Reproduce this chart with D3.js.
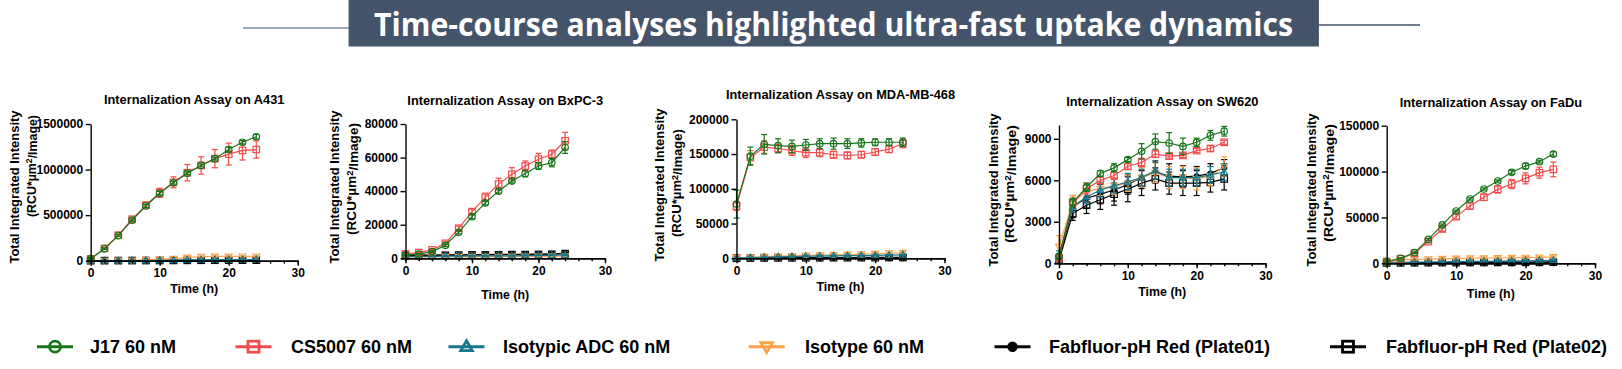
<!DOCTYPE html>
<html><head><meta charset="utf-8">
<script src="https://cdn.jsdelivr.net/npm/d3@7/dist/d3.min.js"></script>
<style>
body{margin:0;background:#fff;}
svg{display:block;font-family:"Liberation Sans",Arial,sans-serif;}
</style>
</head><body>
<svg id="chart" width="1622" height="369"></svg>
<script>
// ---------------- DATA ----------------
const headline = "Time-course analyses highlighted ultra-fast uptake dynamics";
const times = [0, 2, 4, 6, 8, 10, 12, 14, 16, 18, 20, 22, 24];
const seriesNames = ["J17 60 nM", "CS5007 60 nM", "Isotypic ADC 60 nM", "Isotype 60 nM",
  "Fabfluor-pH Red (Plate01)", "Fabfluor-pH Red (Plate02)"];
const panelTitles = ["Internalization Assay on A431", "Internalization Assay on BxPC-3",
  "Internalization Assay on MDA-MB-468", "Internalization Assay on SW620", "Internalization Assay on FaDu"];
const xTicks = [0, 10, 20, 30];
const xMinorTicks = [0, 2, 4, 6, 8, 10, 12, 14, 16, 18, 20, 22, 24, 26, 28, 30];
const yMaxes = [1500000, 80000, 200000, 10000, 150000];
const yTicksA431 = [0, 500000, 1000000, 1500000];
const yTicksBxPC3 = [0, 20000, 40000, 60000, 80000];
const yTicksMDA = [0, 50000, 100000, 150000, 200000];
const yTicksSW620 = [0, 3000, 6000, 9000];
const yTicksFaDu = [0, 50000, 100000, 150000];

// rows: J17, CS5007, Isotypic ADC, Isotype, Plate01, Plate02
const a431Values = [
  [20000, 130000, 275000, 445000, 600000, 740000, 855000, 960000, 1045000, 1120000, 1220000, 1300000, 1360000],
  [20000, 135000, 280000, 455000, 610000, 745000, 860000, 965000, 1045000, 1120000, 1170000, 1210000, 1220000],
  [0, 500, 1000, 1500, 2000, 3000, 5000, 8000, 10000, 11000, 12000, 12000, 13000],
  [0, 1000, 2000, 3000, 8000, 14000, 22000, 35000, 45000, 47000, 47000, 48000, 48000],
  [0, 500, 1000, 1500, 2000, 2500, 3000, 4000, 5000, 5000, 5000, 5000, 5000],
  [0, 500, 1000, 1500, 2000, 2500, 3000, 4000, 5000, 5500, 5500, 6000, 6000]];
const a431Errors = [
  [5000, 8000, 10000, 12000, 15000, 20000, 15000, 15000, 15000, 15000, 25000, 20000, 25000],
  [5000, 10000, 12000, 15000, 30000, 50000, 60000, 90000, 95000, 100000, 120000, 105000, 95000],
  [500, 500, 500, 1000, 1000, 1000, 2000, 3000, 3000, 3000, 3000, 3000, 3000],
  [1000, 1000, 2000, 2000, 3000, 4000, 5000, 6000, 6000, 6000, 6000, 6000, 6000],
  [500, 500, 500, 500, 1000, 1000, 1000, 1000, 1000, 1000, 1000, 1000, 1000],
  [500, 500, 500, 500, 1000, 1000, 1000, 1000, 1000, 1000, 1000, 1000, 1000]];

const bxpc3Values = [
  [2000, 2500, 4000, 7700, 15500, 24800, 33000, 40000, 46000, 50500, 55000, 57000, 66000],
  [2600, 3400, 5000, 8900, 17900, 27800, 36300, 44200, 50000, 55000, 59000, 62000, 70000],
  [1000, 1100, 1200, 1300, 1300, 1400, 1400, 1500, 1500, 1600, 1700, 1800, 2000],
  [700, 800, 800, 900, 900, 1000, 1000, 1000, 1100, 1100, 1200, 1200, 1300],
  [1800, 1900, 1900, 2000, 2000, 2100, 2200, 2300, 2400, 2400, 2500, 2600, 3000],
  [1600, 1700, 1800, 1800, 1900, 2000, 2000, 2100, 2200, 2200, 2300, 2400, 2800]];
const bxpc3Errors = [
  [300, 300, 500, 700, 1000, 1200, 1200, 1200, 1200, 2000, 2000, 2500, 3500],
  [400, 400, 500, 800, 1200, 1500, 2500, 3500, 4000, 3000, 3500, 2500, 5000],
  [200, 200, 200, 200, 200, 200, 200, 200, 200, 200, 200, 200, 300],
  [200, 200, 200, 200, 200, 200, 200, 200, 200, 200, 200, 200, 300],
  [200, 200, 200, 200, 200, 200, 200, 200, 200, 200, 200, 300, 400],
  [200, 200, 200, 200, 200, 200, 200, 200, 200, 200, 200, 300, 400]];

const mdaValues = [
  [78000, 147000, 164000, 162000, 161000, 163000, 165000, 165000, 165000, 166000, 167000, 167000, 167000],
  [75000, 145000, 160000, 158000, 155000, 152000, 152000, 149000, 148000, 149000, 153000, 157000, 165000],
  [200, 1000, 1500, 2000, 2500, 3000, 3200, 3500, 3800, 4000, 4200, 4500, 5000],
  [500, 1500, 2500, 3000, 3500, 4000, 4500, 5000, 5500, 6000, 6500, 7500, 8000],
  [0, 500, 700, 800, 900, 1000, 1000, 1100, 1100, 1200, 1200, 1300, 1300],
  [0, 300, 500, 600, 700, 800, 800, 900, 900, 1000, 1000, 1100, 1100]];
const mdaErrors = [
  [20000, 13000, 14000, 10000, 9000, 8000, 7000, 8000, 7000, 6000, 5000, 5000, 6000],
  [6000, 10000, 9000, 6000, 7000, 7000, 6000, 5000, 5000, 5000, 5000, 5000, 6000],
  [500, 800, 800, 800, 800, 800, 800, 800, 800, 800, 800, 800, 800],
  [800, 1500, 1500, 1500, 1500, 1500, 1500, 1500, 1500, 1500, 1500, 1500, 1500],
  [300, 300, 300, 300, 300, 300, 300, 300, 300, 300, 300, 300, 300],
  [300, 300, 300, 300, 300, 300, 300, 300, 300, 300, 300, 300, 300]];

const sw620Values = [
  [500, 4400, 5500, 6500, 6900, 7500, 8100, 8800, 8700, 8450, 8750, 9250, 9550],
  [400, 4400, 5400, 6000, 6350, 7000, 7300, 7900, 7750, 7800, 8150, 8300, 8750],
  [600, 4100, 4800, 5300, 5600, 5900, 6200, 6700, 6200, 6200, 6200, 6400, 6600],
  [1200, 4400, 5200, 5400, 5600, 5800, 6200, 6550, 6200, 6200, 6100, 6300, 7000],
  [300, 4100, 4700, 5000, 5300, 5700, 6200, 6600, 6300, 6250, 6300, 6500, 6900],
  [200, 3600, 4200, 4600, 5000, 5350, 5800, 6100, 5800, 5800, 5800, 5850, 6100]];
const sw620Errors = [
  [200, 300, 300, 200, 300, 150, 550, 550, 750, 600, 300, 350, 350],
  [150, 300, 400, 250, 300, 200, 300, 250, 150, 150, 150, 200, 150],
  [300, 400, 500, 500, 500, 600, 600, 600, 600, 600, 600, 600, 600],
  [800, 500, 500, 500, 600, 600, 700, 700, 800, 800, 800, 700, 700],
  [300, 800, 700, 700, 800, 700, 800, 800, 900, 800, 700, 700, 600],
  [200, 500, 600, 700, 800, 900, 900, 800, 800, 900, 900, 700, 800]];

const faduValues = [
  [1800, 5400, 11600, 26100, 41800, 57000, 70100, 81000, 89700, 99200, 106000, 110800, 119100],
  [2000, 5000, 11000, 23600, 37400, 50900, 62500, 72000, 80600, 86400, 92600, 98800, 102400],
  [800, 1000, 1200, 1400, 1600, 1800, 2000, 2200, 2400, 2600, 2800, 3000, 3200],
  [1000, 4000, 4200, 4500, 5000, 5200, 5500, 5600, 5800, 6000, 6200, 6500, 6800],
  [500, 600, 700, 800, 900, 1000, 1000, 1100, 1100, 1200, 1200, 1300, 1300],
  [400, 500, 600, 700, 800, 800, 900, 900, 1000, 1000, 1100, 1100, 1200]];
const faduErrors = [
  [500, 500, 800, 1000, 1000, 1000, 1200, 1200, 1200, 2000, 3000, 1500, 2500],
  [500, 500, 800, 1500, 2500, 3000, 3500, 3500, 4000, 5000, 6000, 6000, 8000],
  [400, 400, 400, 400, 400, 400, 400, 400, 400, 400, 400, 400, 400],
  [600, 1200, 1200, 1200, 1200, 1200, 1200, 1200, 1200, 1200, 1200, 1200, 1200],
  [300, 300, 300, 300, 300, 300, 300, 300, 300, 300, 300, 300, 300],
  [300, 300, 300, 300, 300, 300, 300, 300, 300, 300, 300, 300, 300]];

// ---------------- STYLE / LAYOUT ----------------
const colors = ["#17761a", "#f44c4c", "#16788c", "#fba24a", "#000000", "#000000"];
const shapes = ["circle", "square", "triUp", "triDown", "dot", "square"];
const panelData = [
  {values: a431Values, errors: a431Errors, yTicks: yTicksA431},
  {values: bxpc3Values, errors: bxpc3Errors, yTicks: yTicksBxPC3},
  {values: mdaValues, errors: mdaErrors, yTicks: yTicksMDA},
  {values: sw620Values, errors: sw620Errors, yTicks: yTicksSW620},
  {values: faduValues, errors: faduErrors, yTicks: yTicksFaDu}];
const layout = [
  {x0: 90.7, x1: 297.7, yB: 260.7, yT: 124, titleY: 100, t1: 14.5, t2: 31.5, c1: 187, c2: 166, len2: 102, timeY: 289},
  {x0: 405.5, x1: 605, yB: 258.3, yT: 124, titleY: 100.7, t1: 335, t2: 352, c1: 187, c2: 179, len2: 112, timeY: 295},
  {x0: 736.5, x1: 944.5, yB: 258.3, yT: 119.3, titleY: 95, t1: 659.3, t2: 676.7, c1: 185, c2: 183, len2: 108, timeY: 286.7},
  {x0: 1059, x1: 1265.5, yB: 263.3, yT: 125, titleY: 101.7, t1: 993.3, t2: 1010, c1: 190, c2: 184, len2: 118, timeY: 291.7},
  {x0: 1386.7, x1: 1595, yB: 263.3, yT: 125.7, titleY: 102.7, t1: 1311.7, t2: 1328.3, c1: 190, c2: 183, len2: 118, timeY: 294}];

const svg = d3.select("#chart");

// ---------------- HEADER ----------------
svg.append("line").attr("x1", 243).attr("x2", 349).attr("y1", 28).attr("y2", 28)
  .attr("stroke", "#7d8ca2").attr("stroke-width", 1.6);
svg.append("line").attr("x1", 1318).attr("x2", 1420).attr("y1", 25).attr("y2", 25)
  .attr("stroke", "#44546a").attr("stroke-width", 1.6);
svg.append("rect").attr("x", 348.6).attr("y", 0).attr("width", 970.3).attr("height", 46.5)
  .attr("fill", "#44546a");
svg.append("text").attr("x", 374).attr("y", 35.5).text(headline)
  .attr("fill", "#fff").attr("font-family", "'Open Sans', 'Noto Sans', sans-serif")
  .attr("font-weight", "bold").attr("font-size", 32)
  .attr("textLength", 919).attr("lengthAdjust", "spacingAndGlyphs");

// ---------------- MARKERS ----------------
function drawMarker(g, shape, color, cx, cy, s, sw) {
  if (shape === "circle") {
    g.append("circle").attr("cx", cx).attr("cy", cy).attr("r", s / 2)
      .attr("fill", "none").attr("stroke", color).attr("stroke-width", sw);
  } else if (shape === "dot") {
    g.append("circle").attr("cx", cx).attr("cy", cy).attr("r", s / 2)
      .attr("fill", color).attr("stroke", color).attr("stroke-width", sw * 0.5);
  } else if (shape === "square") {
    g.append("rect").attr("x", cx - s / 2).attr("y", cy - s / 2).attr("width", s).attr("height", s)
      .attr("fill", "none").attr("stroke", color).attr("stroke-width", sw);
  } else {
    const h = s * 0.9, w = s * 1.05;
    const up = shape === "triUp";
    const pts = up
      ? [[cx, cy - h * 0.6], [cx + w / 2, cy + h * 0.4], [cx - w / 2, cy + h * 0.4]]
      : [[cx, cy + h * 0.6], [cx + w / 2, cy - h * 0.4], [cx - w / 2, cy - h * 0.4]];
    g.append("polygon").attr("points", pts.map(p => p.join(",")).join(" "))
      .attr("fill", "none").attr("stroke", color).attr("stroke-width", sw).attr("stroke-linejoin", "miter");
  }
}

// ---------------- PANELS ----------------
const fmt = d3.format("d");
panelData.forEach((pd, i) => {
  const L = layout[i];
  const x = d3.scaleLinear().domain([0, 30]).range([L.x0, L.x1]);
  const y = d3.scaleLinear().domain([0, yMaxes[i]]).range([L.yB, L.yT]);
  const g = svg.append("g");

  // series (last drawn on top: J17)
  [5, 4, 3, 2, 1, 0].forEach(si => {
    const vals = pd.values[si], errs = pd.errors[si], col = colors[si];
    const sg = g.append("g");
    const line = d3.line().x((d, k) => x(times[k])).y(d => y(d));
    sg.append("path").attr("d", line(vals)).attr("fill", "none")
      .attr("stroke", col).attr("stroke-width", 1.2);
    vals.forEach((v, k) => {
      const cx = x(times[k]);
      const yTop = y(v + errs[k]), yBot = y(Math.max(0, v - errs[k]));
      sg.append("line").attr("x1", cx).attr("x2", cx).attr("y1", yTop).attr("y2", yBot)
        .attr("stroke", col).attr("stroke-width", 1.2);
      [yTop, yBot].forEach(yy => sg.append("line").attr("x1", cx - 3).attr("x2", cx + 3)
        .attr("y1", yy).attr("y2", yy).attr("stroke", col).attr("stroke-width", 1.2));
      drawMarker(sg, shapes[si], col, cx, y(v), shapes[si] === "dot" ? 5.5 : 6.5, 1.2);
    });
  });

  // axes
  const yAx = g.append("g").attr("transform", `translate(${L.x0},0)`)
    .call(d3.axisLeft(y).tickValues(pd.yTicks).tickFormat(fmt).tickSize(5).tickSizeOuter(0).tickPadding(2.5));
  const xMinor = g.append("g").attr("transform", `translate(0,${L.yB})`)
    .call(d3.axisBottom(x).tickValues(xMinorTicks).tickFormat("").tickSize(3).tickSizeOuter(0));
  const xAx = g.append("g").attr("transform", `translate(0,${L.yB})`)
    .call(d3.axisBottom(x).tickValues(xTicks).tickFormat(fmt).tickSize(5).tickSizeOuter(0).tickPadding(3));
  [yAx, xAx, xMinor].forEach(a => {
    a.selectAll("path,line").attr("stroke", "#000").attr("stroke-width", 1.4);
    a.selectAll("text").attr("font-family", "'Liberation Sans', Arial, sans-serif")
      .attr("font-weight", "bold").attr("font-size", 12).attr("fill", "#000");
  });

  // titles
  g.append("text").attr("x", (L.x0 + L.x1) / 2).attr("y", L.titleY).attr("dy", "0.35em")
    .attr("text-anchor", "middle").attr("font-weight", "bold").attr("font-size", 12.8)
    .text(panelTitles[i]);
  g.append("text").attr("x", (L.x0 + L.x1) / 2).attr("y", L.timeY).attr("dy", "0.35em")
    .attr("text-anchor", "middle").attr("font-weight", "bold").attr("font-size", 12.4)
    .text("Time (h)");
  g.append("text").attr("transform", `translate(${L.t1},${L.c1}) rotate(-90)`)
    .attr("dy", "0.35em").attr("text-anchor", "middle").attr("font-weight", "bold").attr("font-size", 12.2)
    .attr("textLength", 153).attr("lengthAdjust", "spacingAndGlyphs")
    .text("Total Integrated Intensity");
  const t2 = g.append("text").attr("transform", `translate(${L.t2},${L.c2}) rotate(-90)`)
    .attr("dy", "0.35em").attr("text-anchor", "middle").attr("font-weight", "bold").attr("font-size", 12.2)
    .attr("textLength", L.len2).attr("lengthAdjust", "spacingAndGlyphs");
  t2.append("tspan").text("(RCU*µm");
  t2.append("tspan").attr("dy", "-0.4em").attr("font-size", 8.5).text("2");
  t2.append("tspan").attr("dy", "0.4em").text("/Image)");
});

// ---------------- LEGEND ----------------
const legendSym = [55, 253.5, 466.5, 766.7, 1012.5, 1348];
const legendTxt = [90, 291, 503, 805, 1049, 1386];
const legY = 346.7;
seriesNames.forEach((name, si) => {
  const lg = svg.append("g");
  const cx = legendSym[si];
  lg.append("line").attr("x1", cx - 18).attr("x2", cx + 18).attr("y1", legY).attr("y2", legY)
    .attr("stroke", colors[si]).attr("stroke-width", 3);
  drawMarker(lg, shapes[si], colors[si], cx, legY, shapes[si] === "dot" ? 9 : 11, 2.8);
  lg.append("text").attr("x", legendTxt[si]).attr("y", legY).attr("dy", "0.35em")
    .attr("font-weight", "bold").attr("font-size", 18).attr("fill", "#000").text(name);
});
</script>
</body></html>
